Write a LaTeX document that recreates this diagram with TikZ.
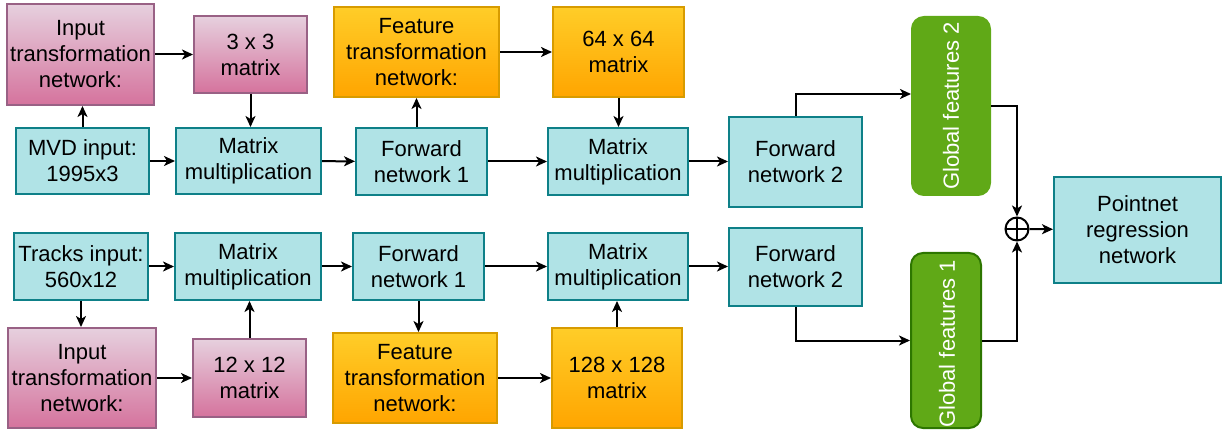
\documentclass[tikz,border=0pt]{standalone}
\usepackage{fontspec}
\setmainfont{Liberation Sans}
\usetikzlibrary{arrows.meta}
\definecolor{cyanfill}{HTML}{B0E3E6}
\definecolor{cyanline}{HTML}{0E8088}
\definecolor{pinktop}{HTML}{E6D0DE}
\definecolor{pinkbot}{HTML}{D5739D}
\definecolor{pinkline}{HTML}{996185}
\definecolor{orgtop}{HTML}{FFCD28}
\definecolor{orgbot}{HTML}{FFA500}
\definecolor{orgline}{HTML}{D79B00}
\definecolor{grnfill}{HTML}{60A917}
\definecolor{grnline}{HTML}{2D7600}
\tikzset{
  base/.style={rectangle, line width=2pt, inner sep=0pt, align=center,
    font=\fontsize{22}{26}\selectfont},
  cyanbox/.style={base, draw=cyanline, fill=cyanfill},
  pinkbox/.style={base, draw=pinkline, top color=pinktop, bottom color=pinkbot},
  orgbox/.style={base, draw=orgline, top color=orgtop, bottom color=orgbot},
  grnbox/.style={base, fill=grnfill, rounded corners=12pt},
  grntext/.style={rotate=90, text=white, font=\fontsize{22}{26}\selectfont},
  sz/.style 2 args={minimum width=#1pt, minimum height=#2pt},
  arr/.style={line width=2pt, -{Stealth[length=11pt,width=10pt,inset=3pt]}},
}
\begin{document}
\begin{tikzpicture}[x=1pt,y=-1pt]
\useasboundingbox (0,0) rectangle (1231,430);

% upper branch (MVD)
\node[pinkbox, sz={147}{101}] (in1) at (80.5,54.5) {Input\\transformation\\network:};
\node[pinkbox, sz={113}{77}] (m33) at (250.5,54.5) {3 x 3\\matrix};
\node[cyanbox, sz={133}{66}] (mvd) at (82.5,161) {MVD input:\\1995x3};
\node[cyanbox, sz={145}{66}] (mm1) at (248.5,161) {Matrix\\multiplication};
\node[orgbox, sz={165}{90}] (ft1) at (416.5,52) {Feature\\transformation\\network:};
\node[orgbox, sz={131}{90}] (m64) at (618.5,52) {64 x 64\\matrix};
\node[cyanbox, sz={131}{67}] (fn1a) at (421.5,161.5) {Forward\\network 1};
\node[cyanbox, sz={140}{67}] (mm2) at (618,161.5) {Matrix\\multiplication};
\node[cyanbox, sz={133}{90}] (fn2a) at (795.5,162) {Forward\\network 2};

% lower branch (tracks)
\node[cyanbox, sz={134}{67}] (trk) at (81,266.5) {Tracks input:\\560x12};
\node[cyanbox, sz={146}{67}] (mm3) at (248,266.5) {Matrix\\multiplication};
\node[pinkbox, sz={148}{100}] (in2) at (82,378) {Input\\transformation\\network:};
\node[pinkbox, sz={113}{78}] (m12) at (249.5,378) {12 x 12\\matrix};
\node[cyanbox, sz={131}{67}] (fn1b) at (418.5,266.5) {Forward\\network 1};
\node[cyanbox, sz={140}{67}] (mm4) at (618,266.5) {Matrix\\multiplication};
\node[orgbox, sz={164}{90}] (ft2) at (415,378) {Feature\\transformation\\network:};
\node[orgbox, sz={130}{100}] (m128) at (617,378) {128 x 128\\matrix};
\node[cyanbox, sz={133}{78}] (fn2b) at (795.5,267) {Forward\\network 2};

% global features, merge and regression head
\node[grnbox, draw=grnfill, sz={78}{178}] (gf2) at (951,106) {};
\node[grntext] at (gf2) {Global features 2};
\node[grnbox, draw=grnline, sz={70}{175}] (gf1) at (946,340.5) {};
\node[grntext] at (947,344) {Global features 1};
\node[circle, draw, line width=2pt, minimum size=23pt, inner sep=0pt,
  path picture={\draw[line width=2pt] (path picture bounding box.north) -- (path picture bounding box.south)
    (path picture bounding box.west) -- (path picture bounding box.east);}] (op) at (1017,229) {};
\node[cyanbox, sz={167}{106}] (pn) at (1137.5,230) {Pointnet\\regression\\network};

% connectors, upper branch
\draw[arr] (in1) -- (m33);
\draw[arr] (mvd.north) -- (mvd.north |- in1.south);
\draw[arr] (m33.south) -- (m33.south |- mm1.north);
\draw[arr] (mvd) -- (mm1);
\draw[arr] (mm1) -- (fn1a);
\draw[arr] (ft1.south |- fn1a.north) -- (ft1.south);
\draw[arr] (ft1) -- (m64);
\draw[arr] (m64.south) -- (m64.south |- mm2.north);
\draw[arr] (fn1a) -- (mm2);
\draw[arr] (mm2.east) -- (mm2.east -| fn2a.west);
\draw[arr] (fn2a.north) |- ([yshift=12pt]gf2.west);
\draw[arr] (gf2.east) -| (op.north);

% connectors, lower branch
\draw[arr] (trk) -- (mm3);
\draw[arr] (trk.south) -- (trk.south |- in2.north);
\draw[arr] (in2) -- (m12);
\draw[arr] (m12.north) -- (m12.north |- mm3.south);
\draw[arr] (mm3) -- (fn1b);
\draw[arr] (fn1b.south) -- (fn1b.south |- ft2.north);
\draw[arr] (ft2) -- (m128);
\draw[arr] (m128.north) -- (m128.north |- mm4.south);
\draw[arr] (fn1b) -- (mm4);
\draw[arr] (mm4.east) -- (mm4.east -| fn2b.west);
\draw[arr] (fn2b.south) |- (gf1.west);
\draw[arr] (gf1.east) -| (op.south);

\draw[arr] (op) -- (pn);
\end{tikzpicture}
\end{document}
